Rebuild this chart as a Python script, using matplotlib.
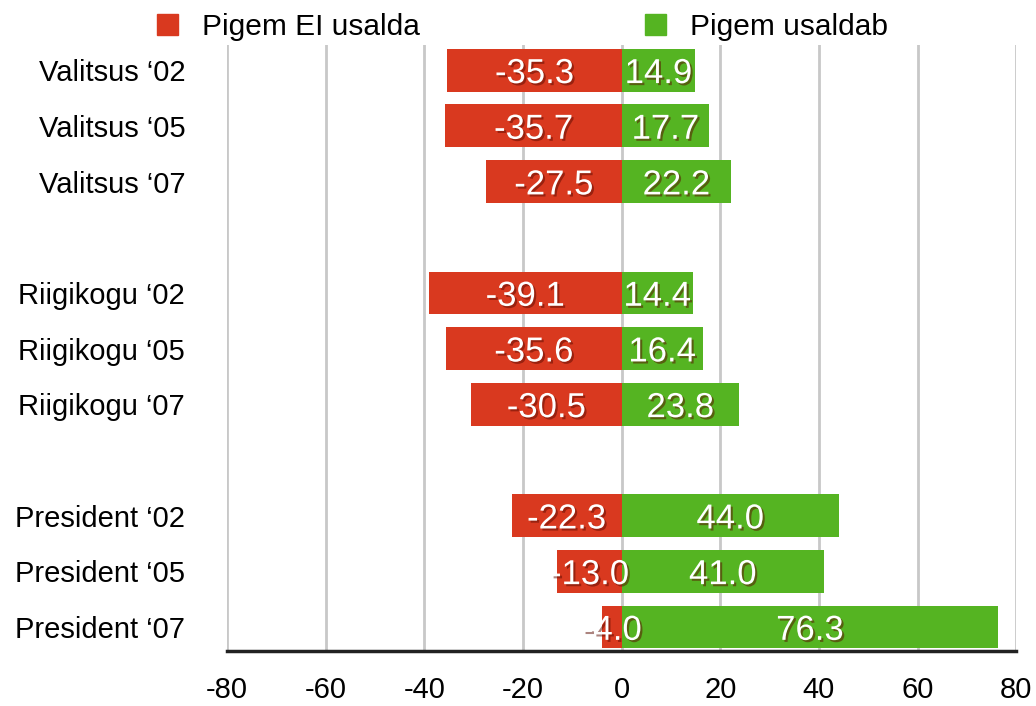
import numpy as np
import matplotlib.pyplot as plt
import matplotlib.patheffects as pe
from matplotlib.patches import Patch

plt.rcParams['font.family'] = ['Liberation Sans', 'DejaVu Sans']

# data
categories = ["Valitsus \u201802", "Valitsus \u201805", "Valitsus \u201807",
              "Riigikogu \u201802", "Riigikogu \u201805", "Riigikogu \u201807",
              "President \u201802", "President \u201805", "President \u201807"]
groups = [0, 0, 0, 1, 1, 1, 2, 2, 2]
distrust = [-35.3, -35.7, -27.5, -39.1, -35.6, -30.5, -22.3, -13.0, -4.0]
trust = [14.9, 17.7, 22.2, 14.4, 16.4, 23.8, 44.0, 41.0, 76.3]
series_names = ["Pigem EI usalda", "Pigem usaldab"]
x_ticks = [-80, -60, -40, -20, 0, 20, 40, 60, 80]

red = "#d9391f"
green = "#55b422"

fig = plt.figure(figsize=(10.36, 7.06), dpi=100)
ax = fig.add_axes([0.219, 0.078, 0.762, 0.858])

# one empty slot between groups
y = np.arange(len(categories)) + np.array(groups)

ax.barh(y, distrust, height=0.77, color=red, zorder=2)
ax.barh(y, trust, height=0.77, color=green, zorder=2)

# white labels with a soft dark shadow
shadow = [pe.SimplePatchShadow(offset=(1.5, -1.5), shadow_rgbFace="#5a0a00", alpha=0.5),
          pe.Normal()]
for yi, d, t in zip(y, distrust, trust):
    ax.text(d / 2, yi + 0.06, f"{d:.1f}", ha="center", va="center", color="white",
            fontsize=25, zorder=3, path_effects=shadow)
    ax.text(t / 2, yi + 0.06, f"{t:.1f}", ha="center", va="center", color="white",
            fontsize=25, zorder=3, path_effects=shadow)

ax.set_xlim(-80, 80)
ax.set_ylim(y[-1] + 0.43, -0.45)
ax.set_xticks(x_ticks)
ax.set_xticklabels([str(v) for v in x_ticks], fontsize=21)
ax.set_yticks(y)
ax.set_yticklabels(categories, fontsize=21)
ax.tick_params(length=0)
ax.tick_params(axis="x", pad=18)
ax.tick_params(axis="y", pad=30)

for v in x_ticks:
    ax.axvline(v, color="#c8c8c8", lw=2, zorder=1)

for s in ["top", "left", "right"]:
    ax.spines[s].set_visible(False)
ax.spines["bottom"].set_linewidth(2.5)
ax.spines["bottom"].set_color("#222222")
ax.spines["bottom"].set_zorder(4)

handles = [Patch(color=red), Patch(color=green)]
fig.legend(handles, series_names, ncol=2, loc="center left",
           bbox_to_anchor=(0.14, 0.962), frameon=False, fontsize=21.5,
           handlelength=0.7, handleheight=0.7, handletextpad=0.8,
           columnspacing=7.55, borderaxespad=0)

fig.savefig("out.png", dpi=100)
